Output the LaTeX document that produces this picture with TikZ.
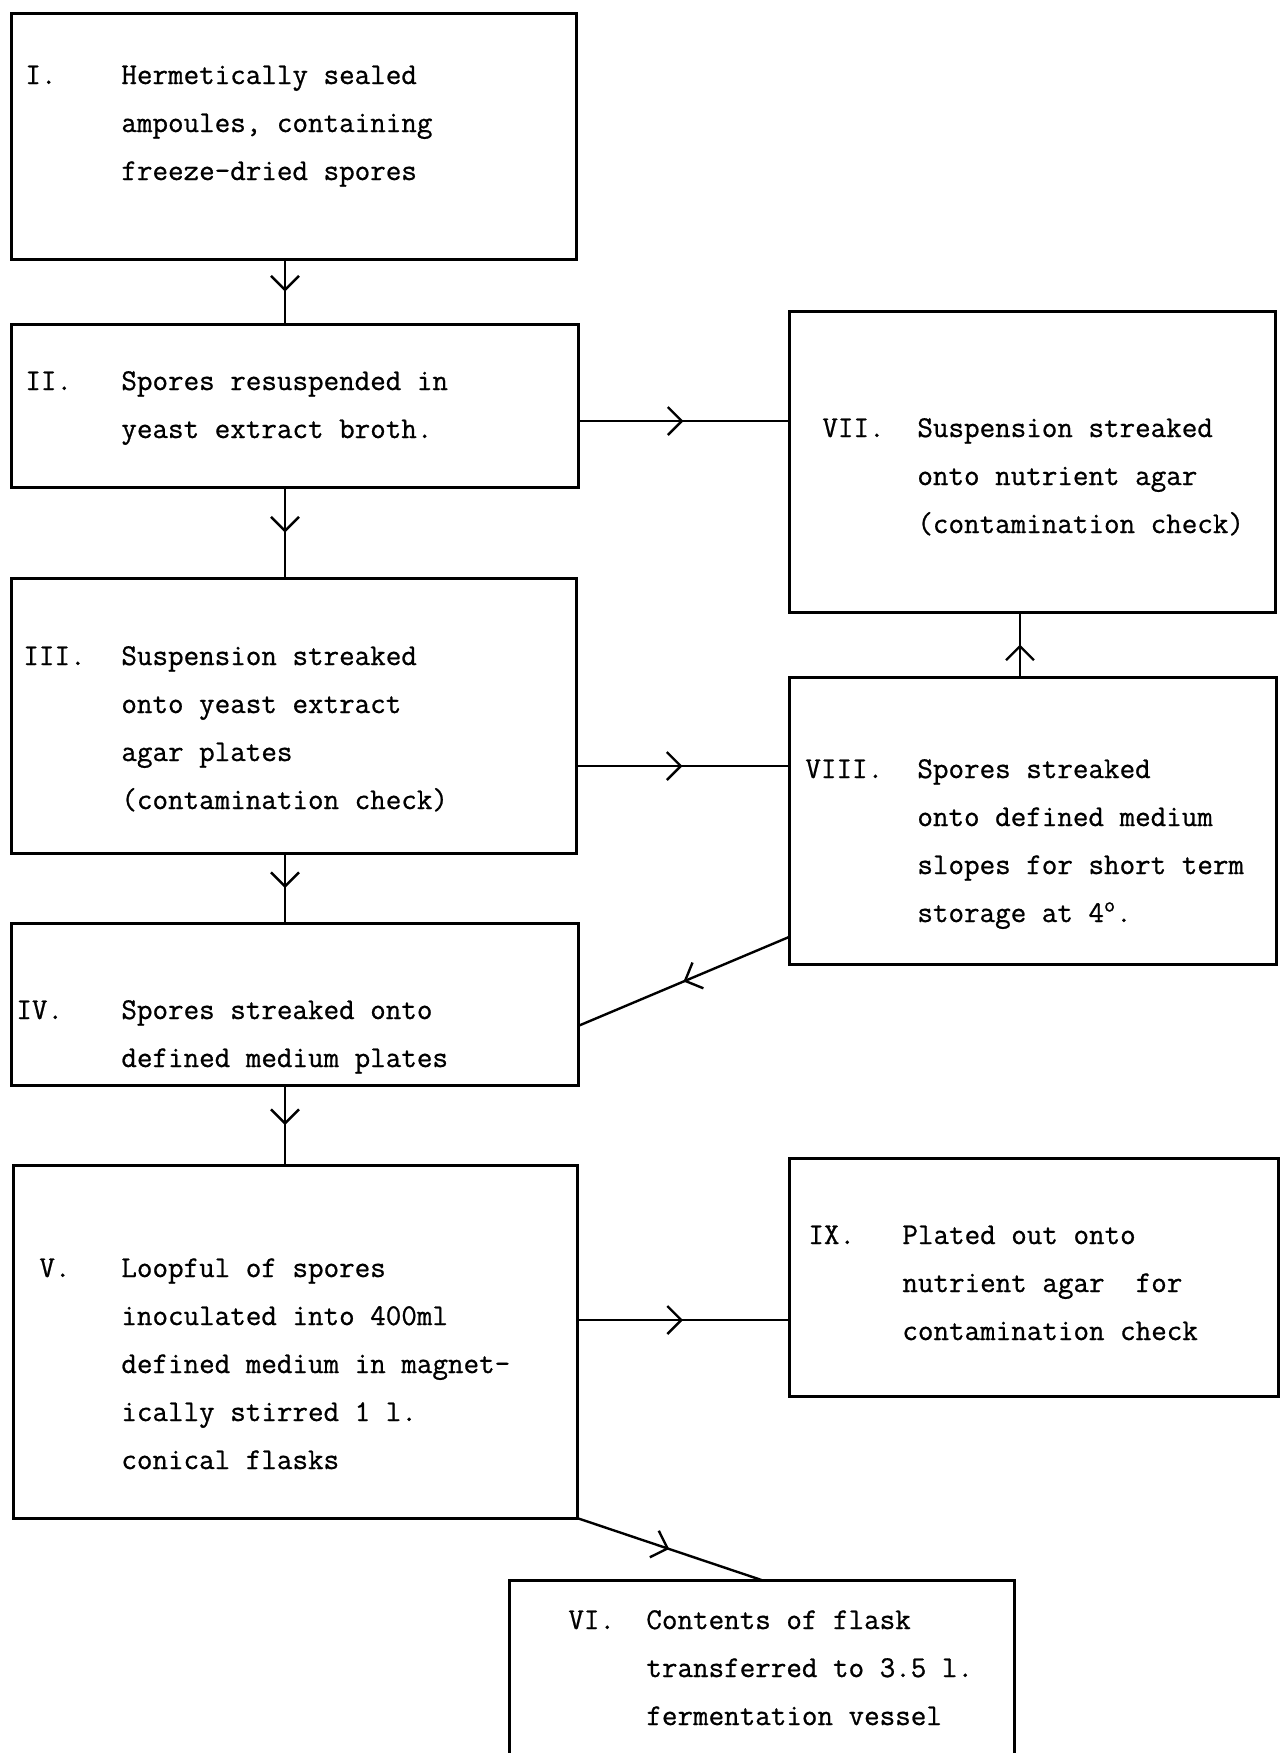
\documentclass[tikz,border=0pt]{standalone}
\usepackage{fontspec}
\newfontfamily\typew{Latin Modern Mono}[FakeBold=0.8]
\usetikzlibrary{arrows.meta,decorations.markings}
\tikzset{
  stage/.style={draw, line width=1.5pt, rectangle, anchor=north west, inner sep=0pt, outer sep=0pt},
  lbl/.style={anchor=base west, inner sep=0pt, font=\fontsize{15.1}{18}\selectfont\typew},
  flow/.style={line width=1.2pt, postaction={decorate},
    decoration={markings, mark=at position 0.5 with {\arrow[line width=1.2pt]{Straight Barb[length=7pt,width=14pt]}}}}
}
\newcommand\stagetext[6]{%
  \node[lbl] (#1-label) at (#2,#4) {#3};
  \foreach \t [count=\i] in {#6} \node[lbl] (#1-line\i) at (#5,{#4+(\i-1)*48}) {\t};
}
\begin{document}
\begin{tikzpicture}[x=0.5pt,y=-0.5pt]
\useasboundingbox (0,0) rectangle (1284,1753);
\fill[white] (0,0) rectangle (1284,1753);

% boxes
\node[stage, minimum width=282.5pt, minimum height=123pt]   (I)    at (11,13)   {};
\node[stage, minimum width=283.5pt, minimum height=81.5pt]  (II)   at (11,324)  {};
\node[stage, minimum width=282.5pt, minimum height=137.5pt] (III)  at (11,578)  {};
\node[stage, minimum width=283.5pt, minimum height=81pt]    (IV)   at (11,923)  {};
\node[stage, minimum width=282pt,   minimum height=176.5pt] (V)    at (13,1165) {};
\node[stage, minimum width=252.5pt, minimum height=100pt]   (VI)   at (509,1580) {};
\node[stage, minimum width=243pt,   minimum height=150.5pt] (VII)  at (789,311) {};
\node[stage, minimum width=243.5pt, minimum height=143.5pt] (VIII) at (789,677) {};
\node[stage, minimum width=244.5pt, minimum height=119pt]   (IX)   at (789,1158) {};

% texts
\stagetext{tI}{25}{I.}{84}{121}{Hermetically sealed, {ampoules, containing}, freeze-dried spores}
\stagetext{tII}{25}{II.}{390}{121}{Spores resuspended in, yeast extract broth.}
\stagetext{tIII}{23}{III.}{665}{121}{Suspension streaked, onto yeast extract, agar plates, (contamination check)}
\stagetext{tIV}{16}{IV.}{1019}{121}{Spores streaked onto, defined medium plates}
\stagetext{tV}{39}{V.}{1277}{121}{Loopful of spores, inoculated into 400ml, defined medium in magnet-, ically stirred 1 l., conical flasks}
\stagetext{tVI}{568}{VI.}{1629}{646}{Contents of flask, transferred to 3.5 l., fermentation vessel}
\stagetext{tVII}{822}{VII.}{437}{917}{Suspension streaked, onto nutrient agar, (contamination check)}
\stagetext{tVIII}{805}{VIII.}{778}{917}{Spores streaked, onto defined medium, slopes for short term, {storage at 4\textsuperscript{o}.}}
\stagetext{tIX}{808}{IX.}{1244}{902}{Plated out onto, {nutrient agar\ \ for}, contamination check}

% guide coordinates
\coordinate (spine) at (285,0);
\coordinate (h1) at (0,421);
\coordinate (h2) at (0,766);
\coordinate (h3) at (0,1320);
\coordinate (v2) at (1020,0);
\coordinate (d1) at (0,937);
\coordinate (d2) at (0,1026);

% connectors
\draw[flow] (I.south -| spine) -- (II.north -| spine);
\draw[flow] (II.south -| spine) -- (III.north -| spine);
\draw[flow] (III.south -| spine) -- (IV.north -| spine);
\draw[flow] (IV.south -| spine) -- (V.north -| spine);
\draw[flow] (II.east |- h1) -- (VII.west |- h1);
\draw[flow] (III.east |- h2) -- (VIII.west |- h2);
\draw[flow] (V.east |- h3) -- (IX.west |- h3);
\draw[flow] (VIII.north -| v2) -- (VII.south -| v2);
\draw[flow] (VIII.west |- d1) -- (IV.east |- d2);
\draw[flow] (V.south east) -- (VI.north);
\end{tikzpicture}
\end{document}
